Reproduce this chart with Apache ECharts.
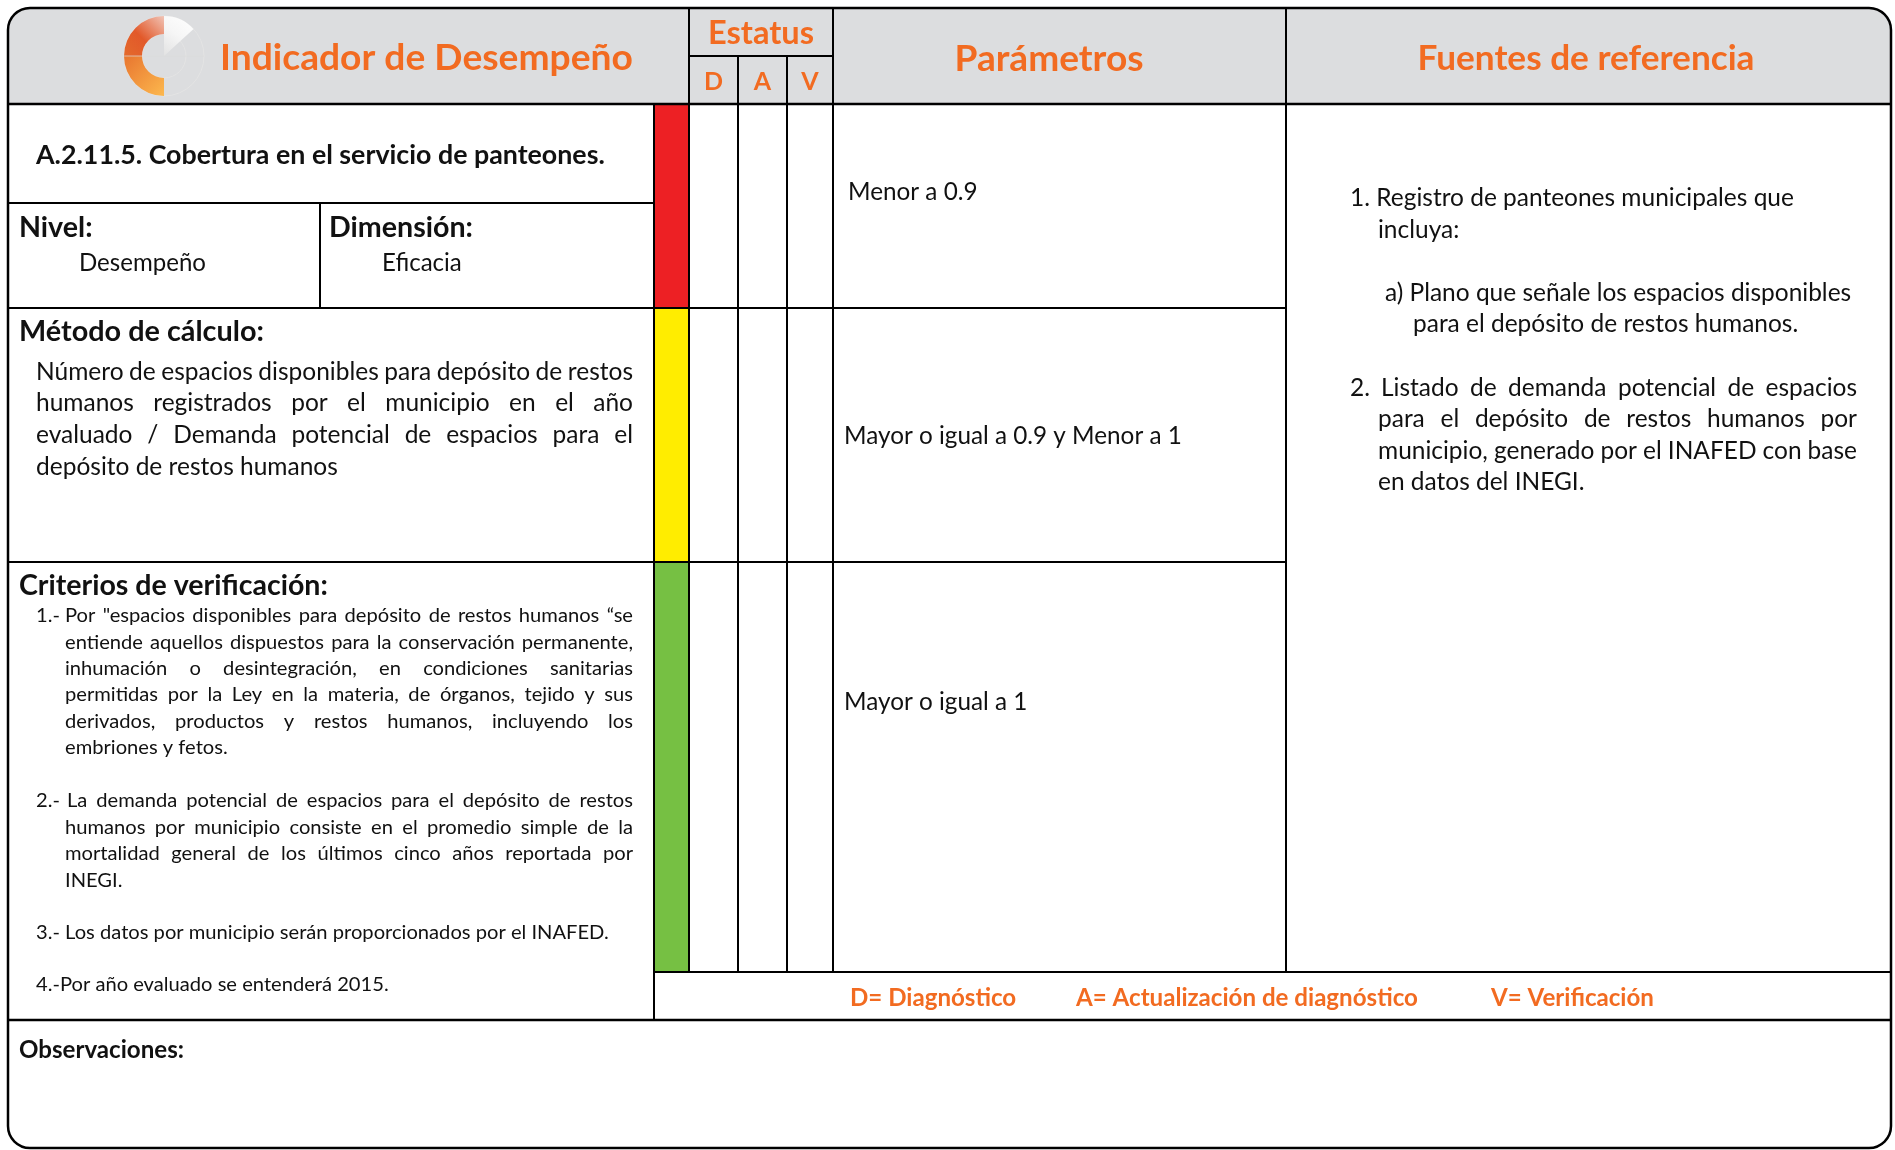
<!DOCTYPE html>
<html><head><meta charset="utf-8">
<script src="https://cdn.jsdelivr.net/npm/echarts@6/dist/echarts.min.js"></script>
<style>html,body{margin:0;padding:0;background:#fff}#c{width:1895px;height:1150px}</style>
</head><body><div id="c"></div>
<script>
// ---------- content ----------
const headerTitles = ['Indicador de Desempeño', 'Estatus', 'Parámetros', 'Fuentes de referencia'];
const statusCodes = ['D', 'A', 'V'];
const indicatorName = 'A.2.11.5. Cobertura en el servicio de panteones.';
const levelLabels = ['Nivel:', 'Dimensión:'];
const levelValues = ['Desempeño', 'Eficacia'];
const methodTitle = 'Método de cálculo:';
const methodLines = [
  'Número de espacios disponibles para depósito de restos',
  'humanos registrados por el municipio en el año',
  'evaluado / Demanda potencial de espacios para el',
  'depósito de restos humanos'
];
const criteriaTitle = 'Criterios de verificación:';
const criteriaNumbers = ['1.-', '2.-'];
const criteria1Lines = [
  'Por "espacios disponibles para depósito de restos humanos “se',
  'entiende aquellos dispuestos para la conservación permanente,',
  'inhumación o desintegración, en condiciones sanitarias',
  'permitidas por la Ley en la materia, de órganos, tejido y sus',
  'derivados, productos y restos humanos, incluyendo los',
  'embriones y fetos.'
];
const criteria2Lines = [
  'La demanda potencial de espacios para el depósito de restos',
  'humanos por municipio consiste en el promedio simple de la',
  'mortalidad general de los últimos cinco años reportada por',
  'INEGI.'
];
const criteria3 = '3.- Los datos por municipio serán proporcionados por el INAFED.';
const criteria4 = '4.-Por año evaluado se entenderá 2015.';
const statusLevels = ['Rojo', 'Amarillo', 'Verde'];
const parameterLabels = ['Menor a 0.9', 'Mayor o igual a 0.9 y Menor a 1', 'Mayor o igual a 1'];
const sourceLines1 = ['1. Registro de panteones municipales que', 'incluya:'];
const sourceLinesA = ['a) Plano que señale los espacios disponibles', 'para el depósito de restos humanos.'];
const source2Number = '2.';
const sourceLines2 = [
  'Listado de demanda potencial de espacios',
  'para el depósito de restos humanos por',
  'municipio, generado por el INAFED con base',
  'en datos del INEGI.'
];
const legendItems = ['D= Diagnóstico', 'A= Actualización de diagnóstico', 'V= Verificación'];
const observationsTitle = 'Observaciones:';

// ---------- styles ----------
const FAMILY = 'Lato';
const ORANGE = '#f26b21';
const INK = '#111111';
const HEAD_BG = '#dcdddf';
const statusColors = ['#ed2024', '#ffed00', '#76c043'];

const ctx = document.createElement('canvas').getContext('2d');
function measure(t, size, weight) { ctx.font = weight + ' ' + size + 'px ' + FAMILY; return ctx.measureText(t).width; }
function fit(t, weight, w) { return 100 * w / measure(t, 100, weight); }

const els = [];
function txt(text, x, y, size, weight, fill, align) {
  els.push({
    type: 'text', x: x, y: y, z: 10,
    style: {
      text: text, fontSize: size, fontWeight: weight, fontFamily: FAMILY,
      fill: fill || INK, textAlign: align || 'left', textVerticalAlign: 'middle',
      align: align || 'left', verticalAlign: 'middle'
    }
  });
}
function justified(text, x0, x1, y, size, weight, fill) {
  const words = text.split(' ');
  const ws = words.map(w => measure(w, size, weight));
  const sum = ws.reduce((a, b) => a + b, 0);
  const gap = words.length > 1 ? (x1 - x0 - sum) / (words.length - 1) : 0;
  let x = x0;
  words.forEach((w, i) => { txt(w, x, y, size, weight, fill); x += ws[i] + gap; });
}
function line(x1, y1, x2, y2, w) {
  els.push({ type: 'line', z: 5, shape: { x1, y1, x2, y2 }, style: { stroke: '#000', lineWidth: w || 2 } });
}

// ---------- geometry ----------
const L = 8, T = 8, R = 1891, B = 1148, RAD = 22;
const xBar = 654, xD = 689, xA = 738, xV = 787, xP = 833, xF = 1286, xMid = 320;
const yStat = 56, yHead = 104, yTitle = 203, yRow1 = 308, yRow2 = 562, yRow3 = 972, yLeg = 1020;
const bandTops = [yHead, yRow1, yRow2];
const bandBots = [yRow1, yRow2, yRow3];

// header background
els.push({ type: 'rect', z: 1, shape: { x: L, y: T, width: R - L, height: yHead - T, r: [RAD, RAD, 0, 0] }, style: { fill: HEAD_BG } });

// status colour bands
statusLevels.forEach((s, i) => {
  els.push({ type: 'rect', z: 2, shape: { x: xBar, y: bandTops[i], width: xD - xBar, height: bandBots[i] - bandTops[i] }, style: { fill: statusColors[i], stroke: '#000', lineWidth: 2 } });
});

// grid lines
line(L, yHead, R, yHead, 2.5);
line(xD, T, xD, yRow3);
line(xP, T, xP, yRow3);
line(xF, T, xF, yRow3);
line(xA, yStat, xA, yRow3);
line(xV, yStat, xV, yRow3);
line(xD, yStat, xP, yStat);
line(xBar, yHead, xBar, yLeg);
line(L, yTitle, xBar, yTitle);
line(xMid, yTitle, xMid, yRow1);
line(L, yRow1, xF, yRow1);
line(L, yRow2, xF, yRow2);
line(xBar, yRow3, R, yRow3);
line(L, yLeg, R, yLeg, 2.5);

// outer border
els.push({ type: 'rect', z: 6, shape: { x: L, y: T, width: R - L, height: B - T, r: RAD }, style: { fill: null, stroke: '#000', lineWidth: 2.5 } });

// logo
const cx = 164, cy = 56, r0 = 22, r1 = 40;
els.push({ type: 'circle', z: 3, shape: { cx, cy, r: r1 }, style: { fill: null, stroke: '#e4e4e4', lineWidth: 1 } });
els.push({ type: 'circle', z: 3, shape: { cx, cy, r: r0 }, style: { fill: null, stroke: '#e4e4e4', lineWidth: 1 } });
els.push({ type: 'sector', z: 3, shape: { cx, cy, r0: 0, r: r1, startAngle: -Math.PI / 2, endAngle: -0.74 },
  style: { fill: { type: 'linear', x: 0, y: 1, x2: 1, y2: 0, colorStops: [{ offset: 0, color: '#e2e2e2' }, { offset: 0.5, color: '#f6f6f6' }, { offset: 1, color: '#ffffff' }] } } });
els.push({ type: 'sector', z: 4, shape: { cx, cy, r0, r: r1, startAngle: Math.PI / 2, endAngle: Math.PI },
  style: { fill: { type: 'linear', x: 0, y: 0, x2: 1, y2: 1, colorStops: [{ offset: 0, color: '#e8752f' }, { offset: 1, color: '#fcb84e' }] } } });
els.push({ type: 'sector', z: 4, shape: { cx, cy, r0, r: r1, startAngle: Math.PI, endAngle: 1.5 * Math.PI },
  style: { fill: { type: 'linear', x: 0, y: 1, x2: 1, y2: 0, colorStops: [{ offset: 0, color: '#e46a2c' }, { offset: 0.45, color: '#e2592a' }, { offset: 1, color: '#f1c4b6' }] } } });
els.push({ type: 'line', z: 4, shape: { x1: cx - r1, y1: cy, x2: cx + r1, y2: cy }, style: { stroke: 'rgba(220,220,220,0.7)', lineWidth: 1 } });

// header texts
txt(headerTitles[0], 220, 58, fit(headerTitles[0], 'bold', 413), 'bold', ORANGE);
txt(headerTitles[1], (xD + xP) / 2, 33, fit(headerTitles[1], 'bold', 106), 'bold', ORANGE, 'center');
const dvSize = 25;
txt(statusCodes[0], (xD + xA) / 2, 82, dvSize, 'bold', ORANGE, 'center');
txt(statusCodes[1], (xA + xV) / 2, 82, dvSize, 'bold', ORANGE, 'center');
txt(statusCodes[2], (xV + xP) / 2, 82, dvSize, 'bold', ORANGE, 'center');
txt(headerTitles[2], 1049, 59, fit(headerTitles[2], 'bold', 189), 'bold', ORANGE, 'center');
txt(headerTitles[3], 1586, 59, fit(headerTitles[3], 'bold', 337), 'bold', ORANGE, 'center');

// left block
txt(indicatorName, 36, 155, fit(indicatorName, 'bold', 569), 'bold', INK);
const labSize = fit(levelLabels[1], 'bold', 144);
txt(levelLabels[0], 19, 228, labSize, 'bold');
txt(levelLabels[1], 329, 228, labSize, 'bold');
const valSize = fit(levelValues[0], 'normal', 127);
txt(levelValues[0], 79, 263, valSize, 'normal');
txt(levelValues[1], 382, 263, valSize, 'normal');

txt(methodTitle, 19, 332, fit(methodTitle, 'bold', 245), 'bold');
const mSize = fit(methodLines[3], 'normal', 302);
const mY = [372, 403, 435, 467];
methodLines.forEach((l, i) => {
  if (i < methodLines.length - 1) justified(l, 36, 633, mY[i], mSize, 'normal');
  else txt(l, 36, mY[i], mSize, 'normal');
});

txt(criteriaTitle, 19, 586, fit(criteriaTitle, 'bold', 309), 'bold');
const cSize = fit(criteria3, 'normal', 573);
const c1Y = [615, 642, 668, 694, 721, 747];
txt(criteriaNumbers[0], 36, c1Y[0], cSize, 'normal');
criteria1Lines.forEach((l, i) => {
  if (i < criteria1Lines.length - 1) justified(l, 65, 633, c1Y[i], cSize, 'normal');
  else txt(l, 65, c1Y[i], cSize, 'normal');
});
const c2Y = [800, 827, 853, 880];
txt(criteriaNumbers[1], 36, c2Y[0], cSize, 'normal');
criteria2Lines.forEach((l, i) => {
  const x0 = i === 0 ? 67 : 65;
  if (i < criteria2Lines.length - 1) justified(l, x0, 633, c2Y[i], cSize, 'normal');
  else txt(l, x0, c2Y[i], cSize, 'normal');
});
txt(criteria3, 36, 932, cSize, 'normal');
txt(criteria4, 36, 984, cSize, 'normal');

txt(observationsTitle, 19, 1050, fit(observationsTitle, 'bold', 165), 'bold');

// parameters
const pSize = fit(parameterLabels[1], 'normal', 338);
txt(parameterLabels[0], 848, 192, pSize, 'normal');
txt(parameterLabels[1], 844, 436, pSize, 'normal');
txt(parameterLabels[2], 844, 702, pSize, 'normal');

// sources
const sSize = fit(sourceLines1[0], 'normal', 444);
txt(sourceLines1[0], 1350, 198, sSize, 'normal');
txt(sourceLines1[1], 1378, 230, sSize, 'normal');
txt(sourceLinesA[0], 1385, 293, sSize, 'normal');
txt(sourceLinesA[1], 1413, 324, sSize, 'normal');
const s2Y = [388, 419, 451, 482];
txt(source2Number, 1350, s2Y[0], sSize, 'normal');
sourceLines2.forEach((l, i) => {
  const x0 = i === 0 ? 1381 : 1378;
  if (i < sourceLines2.length - 1) justified(l, x0, 1857, s2Y[i], sSize, 'normal');
  else txt(l, x0, s2Y[i], sSize, 'normal');
});

// legend
const lgSize = fit(legendItems[1], 'bold', 342);
txt(legendItems[0], 850, 998, lgSize, 'bold', ORANGE);
txt(legendItems[1], 1076, 998, lgSize, 'bold', ORANGE);
txt(legendItems[2], 1491, 998, lgSize, 'bold', ORANGE);

const chart = echarts.init(document.getElementById('c'), null, { renderer: 'canvas' });
chart.setOption({ backgroundColor: '#ffffff', animation: false, graphic: { elements: els } });
</script>
</body></html>
